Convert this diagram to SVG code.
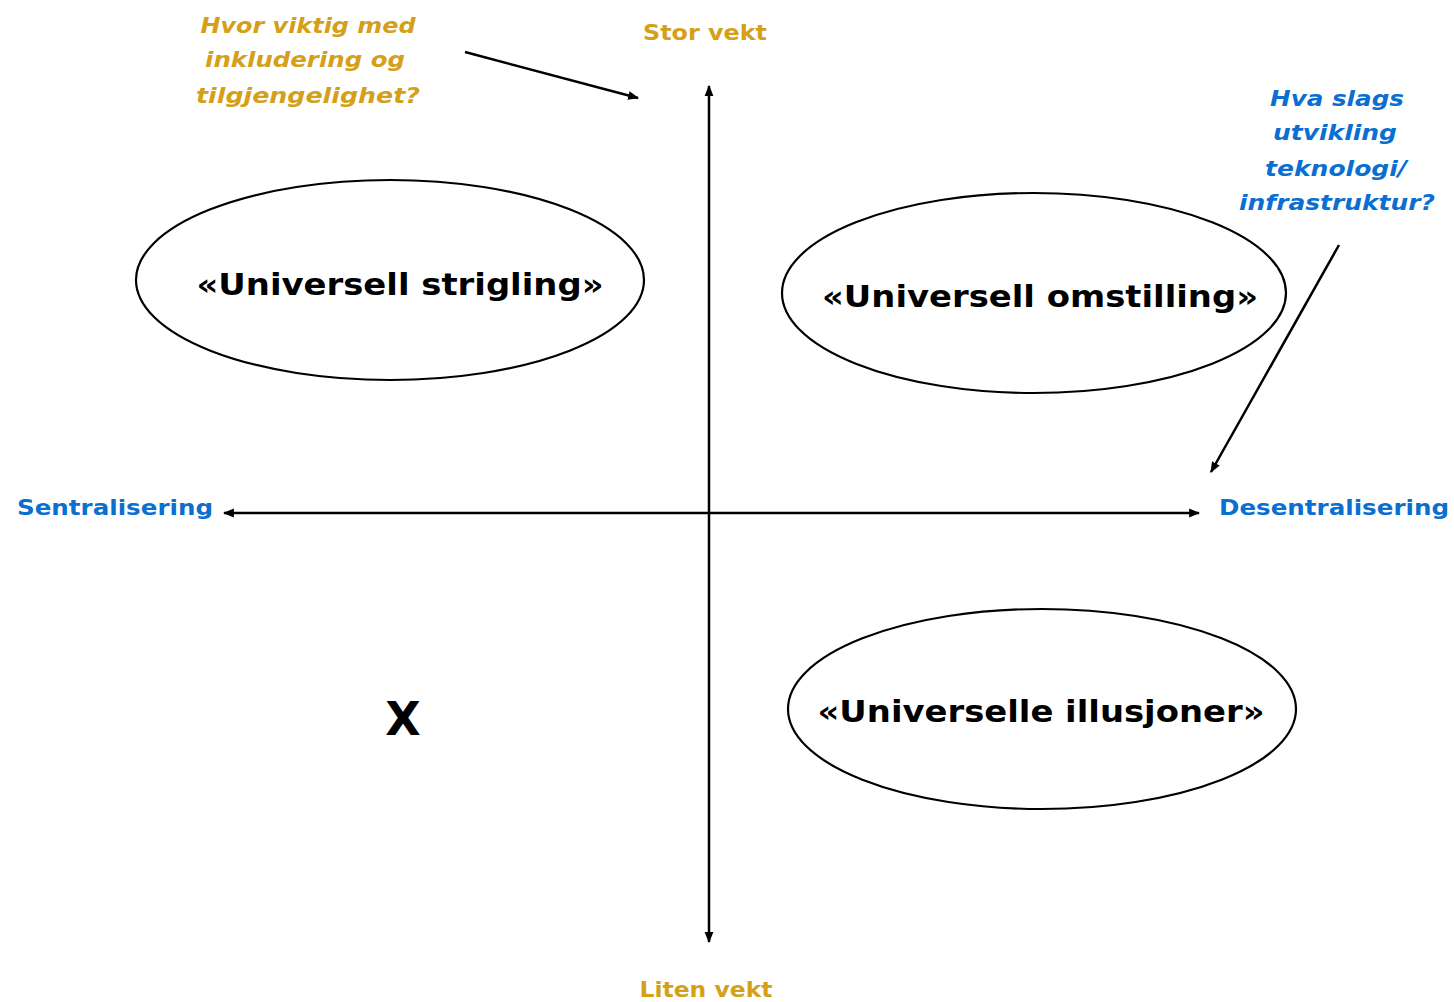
<svg xmlns="http://www.w3.org/2000/svg" width="1454" height="1002" viewBox="0 0 1454 1002">
<style>
.ax{stroke:#000;stroke-width:2.5;fill:none}
.el{fill:none;stroke:#000;stroke-width:2.2}
.big{font-family:"DejaVu Sans",Verdana,sans-serif;font-weight:bold;font-size:31px;fill:#000;text-anchor:middle}
.gold{font-family:"DejaVu Sans",Verdana,sans-serif;font-weight:bold;font-size:21px;fill:#D4A017;text-anchor:middle}
.blue{font-family:"DejaVu Sans",Verdana,sans-serif;font-weight:bold;font-size:21px;fill:#0A6FD0;text-anchor:middle}
.it{font-style:italic}
</style>
<defs>
<marker id="ah2" viewBox="0 0 10 10" refX="9" refY="5" markerWidth="11" markerHeight="11" orient="auto-start-reverse" markerUnits="userSpaceOnUse">
<path d="M0,1 L10,5 L0,9 Z" fill="#000"/>
</marker>
</defs>
<g id="connectors">
<line class="ax" x1="709" y1="942" x2="709" y2="86" marker-start="url(#ah2)" marker-end="url(#ah2)"/>
<line class="ax" x1="224" y1="513" x2="1199" y2="513" marker-start="url(#ah2)" marker-end="url(#ah2)"/>
<line class="ax" x1="465" y1="52" x2="638" y2="98" marker-end="url(#ah2)"/>
<line class="ax" x1="1339" y1="245" x2="1211" y2="472" marker-end="url(#ah2)"/>
</g>
<g id="node-strigling">
<ellipse class="el" cx="390" cy="280" rx="254" ry="100"/>
<text class="big" x="400" y="295" textLength="407" lengthAdjust="spacingAndGlyphs">«Universell strigling»</text>
</g>
<g id="node-omstilling">
<ellipse class="el" cx="1034" cy="293" rx="252" ry="100"/>
<text class="big" x="1040" y="307" textLength="436" lengthAdjust="spacingAndGlyphs">«Universell omstilling»</text>
</g>
<g id="node-illusjoner">
<ellipse class="el" cx="1042" cy="709" rx="254" ry="100"/>
<text class="big" x="1041" y="722" textLength="447" lengthAdjust="spacingAndGlyphs">«Universelle illusjoner»</text>
</g>
<g id="node-x">
<text class="big" x="403" y="735" style="font-size:46px">X</text>
</g>
<g id="label-stor">
<text class="gold" x="705" y="40" textLength="124" lengthAdjust="spacingAndGlyphs">Stor vekt</text>
</g>
<g id="label-liten">
<text class="gold" x="706" y="997" textLength="133" lengthAdjust="spacingAndGlyphs">Liten vekt</text>
</g>
<g id="label-sentral">
<text class="blue" x="115" y="515" textLength="196" lengthAdjust="spacingAndGlyphs">Sentralisering</text>
</g>
<g id="label-desentral">
<text class="blue" x="1334" y="515" textLength="230" lengthAdjust="spacingAndGlyphs">Desentralisering</text>
</g>
<g id="note-inkludering">
<text class="gold it" x="308" y="33" textLength="215" lengthAdjust="spacingAndGlyphs">Hvor viktig med</text>
<text class="gold it" x="305" y="67" textLength="200" lengthAdjust="spacingAndGlyphs">inkludering og</text>
<text class="gold it" x="308" y="103" textLength="224" lengthAdjust="spacingAndGlyphs">tilgjengelighet?</text>
</g>
<g id="note-teknologi">
<text class="blue it" x="1337" y="106" textLength="134" lengthAdjust="spacingAndGlyphs">Hva slags</text>
<text class="blue it" x="1335" y="140" textLength="124" lengthAdjust="spacingAndGlyphs">utvikling</text>
<text class="blue it" x="1336" y="176" textLength="142" lengthAdjust="spacingAndGlyphs">teknologi/</text>
<text class="blue it" x="1337" y="210" textLength="196" lengthAdjust="spacingAndGlyphs">infrastruktur?</text>
</g>
</svg>
